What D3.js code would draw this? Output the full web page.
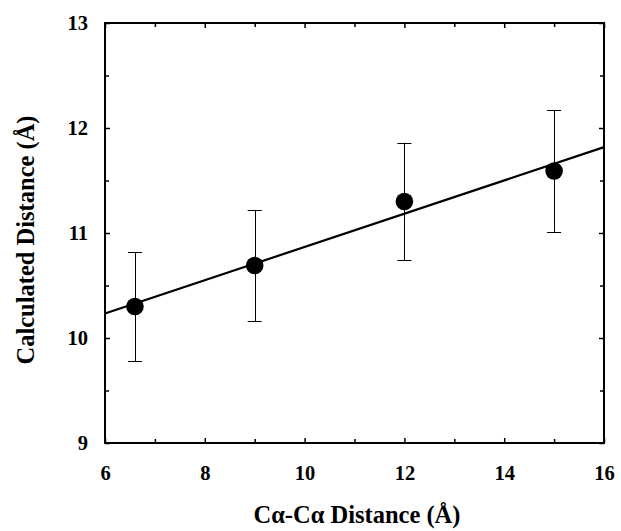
<!DOCTYPE html>
<html>
<head>
<meta charset="utf-8">
<script src="https://cdn.jsdelivr.net/npm/d3@7"></script>
<style>
  html, body { margin: 0; padding: 0; background: #fff; }
  svg { display: block; }
  text { font-family: "Liberation Serif", "Times New Roman", serif; font-weight: bold; fill: #000; }
</style>
</head>
<body>
<svg id="chart" width="621" height="531"></svg>
<script>
// Measured Cα-Cα separations and the calculated distances, with standard deviations
const caDistance = [6.6, 9, 12, 15];
const calcDistance = [10.30, 10.69, 11.30, 11.59];
const calcError = [0.52, 0.53, 0.56, 0.58];

const xDomain = [6, 16];
const yDomain = [9, 13];
const xTickLabels = [6, 8, 10, 12, 14, 16];
const yTickLabels = [9, 10, 11, 12, 13];
const xMinorTicks = [7, 9, 11, 13, 15];
const yMinorTicks = [9.5, 10.5, 11.5, 12.5];

const xTitle = "Cα-Cα Distance (Å)";
const yTitle = "Calculated Distance (Å)";

const margin = { left: 105, top: 23, right: 17, bottom: 88 };
const W = 621, H = 531;
const x0 = margin.left, x1 = W - margin.right;
const y0 = margin.top, y1 = H - margin.bottom;

const tickFont = 20.5;
const titleFont = 24.5;

const svg = d3.select("#chart");
const x = d3.scaleLinear().domain(xDomain).range([x0, x1]);
const y = d3.scaleLinear().domain(yDomain).range([y1, y0]);

// Least-squares line through the points
const n = caDistance.length;
const mx = d3.mean(caDistance), my = d3.mean(calcDistance);
let sxy = 0, sxx = 0;
for (let i = 0; i < n; i++) {
  sxy += (caDistance[i] - mx) * (calcDistance[i] - my);
  sxx += (caDistance[i] - mx) ** 2;
}
const slope = sxy / sxx, intercept = my - slope * mx;

const data = caDistance.map((d, i) => ({ x: d, y: calcDistance[i], e: calcError[i] }));

// Inward-pointing axes on all four sides
const tickFmt = d3.format("d");
function axisGroup(axisGen, transform) {
  const g = svg.append("g").attr("transform", transform).call(axisGen);
  g.select(".domain").remove();
  g.selectAll(".tick line").attr("stroke", "#000").attr("stroke-width", 1.5);
  g.selectAll(".tick text").attr("font-size", tickFont)
    .attr("font-family", "Liberation Serif").attr("font-weight", "bold");
  return g;
}
// bottom
axisGroup(d3.axisBottom(x).tickValues(xTickLabels).tickFormat(tickFmt).tickSizeInner(-5).tickPadding(22), `translate(0,${y1})`);
axisGroup(d3.axisBottom(x).tickValues(xMinorTicks).tickFormat("").tickSizeInner(-4), `translate(0,${y1})`);
// top
axisGroup(d3.axisTop(x).tickValues(xTickLabels).tickFormat("").tickSizeInner(-5), `translate(0,${y0})`);
axisGroup(d3.axisTop(x).tickValues(xMinorTicks).tickFormat("").tickSizeInner(-4), `translate(0,${y0})`);
// left
axisGroup(d3.axisLeft(y).tickValues(yTickLabels).tickFormat(tickFmt).tickSizeInner(-5).tickPadding(17), `translate(${x0},0)`);
axisGroup(d3.axisLeft(y).tickValues(yMinorTicks).tickFormat("").tickSizeInner(-4), `translate(${x0},0)`);
// right
axisGroup(d3.axisRight(y).tickValues(yTickLabels).tickFormat("").tickSizeInner(-5), `translate(${x1},0)`);
axisGroup(d3.axisRight(y).tickValues(yMinorTicks).tickFormat("").tickSizeInner(-4), `translate(${x1},0)`);

// Plot frame
svg.append("rect")
  .attr("x", x0).attr("y", y0)
  .attr("width", x1 - x0).attr("height", y1 - y0)
  .attr("fill", "none").attr("stroke", "#000").attr("stroke-width", 2);

// Error bars
const cap = 7;
const eb = svg.append("g").attr("stroke", "#000").attr("stroke-width", 1);
eb.selectAll("line.v").data(data).join("line")
  .attr("x1", d => Math.round(x(d.x)) + 0.5).attr("x2", d => Math.round(x(d.x)) + 0.5)
  .attr("y1", d => y(d.y + d.e)).attr("y2", d => y(d.y - d.e));
eb.selectAll("line.t").data(data).join("line")
  .attr("x1", d => x(d.x) - cap).attr("x2", d => x(d.x) + cap)
  .attr("y1", d => Math.round(y(d.y + d.e)) + 0.5).attr("y2", d => Math.round(y(d.y + d.e)) + 0.5);
eb.selectAll("line.b").data(data).join("line")
  .attr("x1", d => x(d.x) - cap).attr("x2", d => x(d.x) + cap)
  .attr("y1", d => Math.round(y(d.y - d.e)) + 0.5).attr("y2", d => Math.round(y(d.y - d.e)) + 0.5);

// Fit line across the full x range
svg.append("line")
  .attr("x1", x(xDomain[0])).attr("y1", y(intercept + slope * xDomain[0]))
  .attr("x2", x(xDomain[1])).attr("y2", y(intercept + slope * xDomain[1]))
  .attr("stroke", "#000").attr("stroke-width", 2.2);

// Points
svg.append("g").selectAll("circle").data(data).join("circle")
  .attr("cx", d => x(d.x)).attr("cy", d => y(d.y))
  .attr("r", 8.8).attr("fill", "#000");

// Axis titles
svg.append("text")
  .attr("x", 357).attr("y", 523)
  .attr("text-anchor", "middle").attr("font-size", titleFont)
  .text(xTitle);
svg.append("text")
  .attr("transform", `translate(34,240) rotate(-90)`)
  .attr("text-anchor", "middle").attr("font-size", titleFont)
  .text(yTitle);
</script>
</body>
</html>
